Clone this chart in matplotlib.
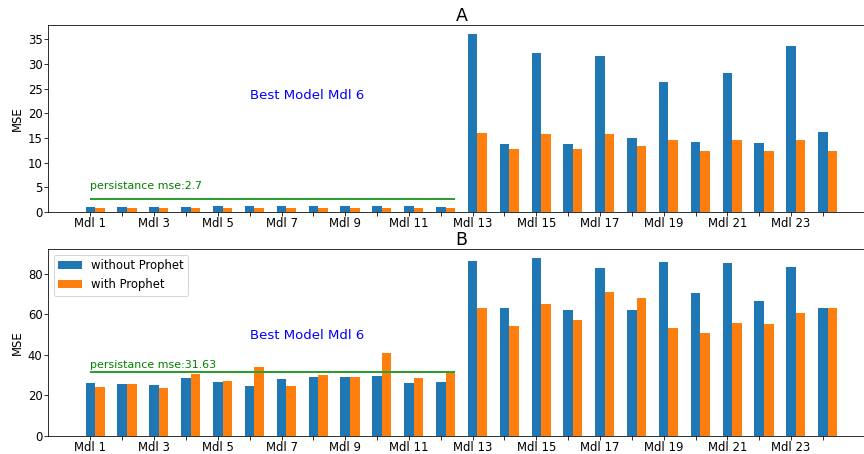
import matplotlib.pyplot as plt
import numpy as np

models = ['Mdl %d' % i for i in range(1, 25)]

# panel A
mse_a_plain = [1.0, 1.0, 1.0, 1.0, 1.2, 1.2, 1.2, 1.2, 1.2, 1.2, 1.2, 1.0,
               36.1, 13.8, 32.2, 13.8, 31.6, 15.0, 26.3, 14.2, 28.2, 14.0, 33.6, 16.2]
mse_a_prophet = [0.8, 0.8, 0.8, 0.8, 0.8, 0.8, 0.8, 0.8, 0.8, 0.8, 0.8, 0.8,
                 16.0, 12.8, 15.8, 12.8, 15.8, 13.4, 14.6, 12.4, 14.6, 12.4, 14.6, 12.4]
persist_a = 2.7

# panel B
mse_b_plain = [26.2, 25.7, 25.2, 28.6, 26.7, 24.7, 28.1, 29.1, 29.1, 29.6, 26.2, 26.7,
               86.4, 63.2, 87.9, 62.2, 83.0, 62.2, 85.9, 70.6, 85.4, 66.7, 83.5, 63.2]
mse_b_prophet = [24.2, 25.7, 23.7, 30.6, 27.2, 34.1, 24.7, 30.1, 29.1, 41.0, 28.6, 31.6,
                 63.2, 54.3, 65.2, 57.3, 71.1, 68.1, 53.3, 50.9, 55.8, 55.3, 60.7, 63.2]
persist_b = 31.63

best = 'Mdl 6'
n_short = 12  # persistence line only spans the first models

plt.rcParams['font.size'] = 11.6
plt.rcParams['xtick.major.size'] = 4
plt.rcParams['ytick.major.size'] = 4
plt.rcParams['xtick.major.pad'] = 1
plt.rcParams['ytick.major.pad'] = 1.5

fig = plt.figure(figsize=(12, 454 / 72), dpi=72)
ax1 = fig.add_axes([0.0556, 0.533, 0.957, 0.412])
ax2 = fig.add_axes([0.0556, 0.0396, 0.957, 0.412])

x = np.arange(len(models))
w = 0.3
ticklabels = [m if i % 2 == 0 else '' for i, m in enumerate(models)]


def draw_panel(ax, plain, prophet, persist, title, text_y):
    ax.bar(x, plain, width=w, label='without Prophet')
    ax.bar(x + w, prophet, width=w, label='with Prophet')
    ax.hlines(persist, 0, n_short - 1 + 1.5 * w, color='tab:green', lw=2)
    ax.text(0, persist + 2, 'persistance mse:' + str(persist), color='green', fontsize=11)
    ax.text(5, text_y, 'Best Model ' + best, color='blue', fontsize=13.3)
    ax.set_xticks(x)
    ax.set_xticklabels(ticklabels)
    ax.set_ylabel('MSE')
    ax.set_title(title, fontsize=17.4, pad=4)


draw_panel(ax1, mse_a_plain, mse_a_prophet, persist_a, 'A', 23)
draw_panel(ax2, mse_b_plain, mse_b_prophet, persist_b, 'B', 48)
ax2.legend(loc='upper left')

fig.savefig('out.png', dpi=72)
